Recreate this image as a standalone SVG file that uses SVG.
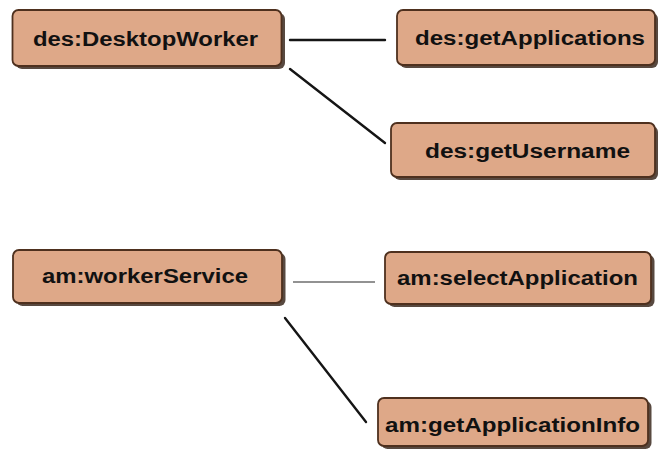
<svg xmlns="http://www.w3.org/2000/svg" width="659" height="450" viewBox="0 0 659 450">
  <defs>
    <style>
      .shadow { fill: #2e1c10; opacity: 0.8; }
      .box { fill: #dea888; stroke: #4e301e; stroke-width: 1.8; }
      .label { font-family: "Liberation Sans", Arial, sans-serif; font-size: 20px; font-weight: bold; fill: #111; text-anchor: middle; }
      .link { stroke: #151515; stroke-width: 2.4; stroke-linecap: round; fill: none; }
      .link-light { stroke: #6e6e6e; stroke-width: 1.5; fill: none; }
    </style>
  </defs>
  <rect width="659" height="450" fill="#ffffff"/>

  <g id="connectors">
    <line class="link" x1="290" y1="40" x2="385" y2="40"/>
    <line class="link" x1="290" y1="69" x2="385" y2="143"/>
    <line class="link-light" x1="293" y1="282" x2="375" y2="282"/>
    <line class="link" x1="285" y1="318" x2="366" y2="422"/>
  </g>

  <g id="des-DesktopWorker">
    <rect class="shadow" x="16" y="13" width="269" height="56" rx="6"/>
    <rect class="box" x="12.5" y="10" width="269" height="56" rx="6"/>
    <text class="label" x="145.5" y="46" textLength="225" lengthAdjust="spacingAndGlyphs">des:DesktopWorker</text>
  </g>

  <g id="des-getApplications">
    <rect class="shadow" x="400" y="13" width="258" height="55" rx="6"/>
    <rect class="box" x="397" y="10" width="258" height="55" rx="6"/>
    <text class="label" x="530" y="45" textLength="230" lengthAdjust="spacingAndGlyphs">des:getApplications</text>
  </g>

  <g id="des-getUsername">
    <rect class="shadow" x="394" y="126" width="264" height="54" rx="6"/>
    <rect class="box" x="391" y="123" width="264" height="54" rx="6"/>
    <text class="label" x="527.5" y="158" textLength="205" lengthAdjust="spacingAndGlyphs">des:getUsername</text>
  </g>

  <g id="am-workerService">
    <rect class="shadow" x="16.5" y="253" width="269" height="53" rx="6"/>
    <rect class="box" x="13" y="250" width="269" height="53" rx="6"/>
    <text class="label" x="145" y="283" textLength="206" lengthAdjust="spacingAndGlyphs">am:workerService</text>
  </g>

  <g id="am-selectApplication">
    <rect class="shadow" x="388.5" y="255" width="266" height="52" rx="6"/>
    <rect class="box" x="385" y="252" width="266" height="52" rx="6"/>
    <text class="label" x="517.5" y="285" textLength="241" lengthAdjust="spacingAndGlyphs">am:selectApplication</text>
  </g>

  <g id="am-getApplicationInfo">
    <rect class="shadow" x="381.5" y="401" width="270" height="48" rx="6"/>
    <rect class="box" x="378" y="398" width="270" height="48" rx="6"/>
    <text class="label" x="512.5" y="432" textLength="255" lengthAdjust="spacingAndGlyphs">am:getApplicationInfo</text>
  </g>
</svg>
